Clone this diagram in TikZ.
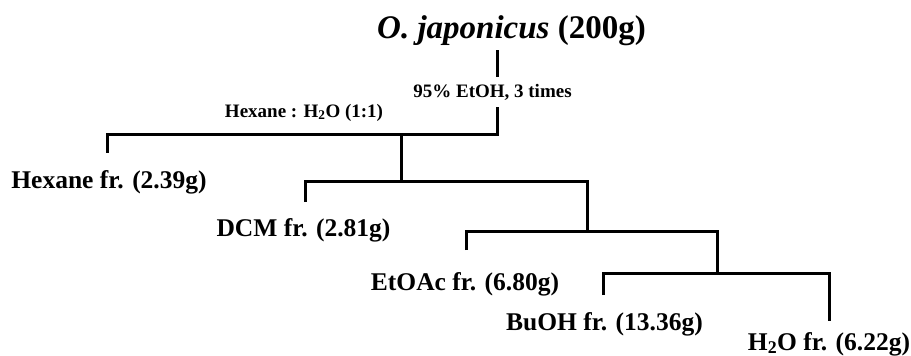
\documentclass[tikz,border=0pt]{standalone}
\usepackage{fontspec}
\setmainfont{Liberation Serif}
\begin{document}
\begin{tikzpicture}[x=1pt,y=-1pt,
  tree/.style={line width=3pt, line join=miter},
  frac/.style={inner sep=0pt, anchor=base, font=\bfseries\fontsize{25.5}{30}\selectfont},
  note/.style={inner sep=0pt, anchor=base, font=\bfseries\fontsize{19}{23}\selectfont}]
\useasboundingbox (0,0) rectangle (911,356);
% texts
\node[inner sep=0pt, anchor=base, font=\bfseries\fontsize{33}{38}\selectfont] (title) at (511.5,38) {\textit{O. japonicus} (200g)};
\node[note] (etoh) at (492.5,97) {95\% EtOH, 3 times};
\node[note] (hexw) at (304,117) {Hexane : H\textsubscript{2}O (1:1)};
\node[frac] (hex) at (109,188) {Hexane fr. (2.39g)};
\node[frac] (dcm) at (303.5,236) {DCM fr. (2.81g)};
\node[frac] (etoac) at (465,290) {EtOAc fr. (6.80g)};
\node[frac] (buoh) at (604.5,330) {BuOH fr. (13.36g)};
\node[frac] (water) at (829,350) {H\textsubscript{2}O fr. (6.22g)};
% junction coordinates
\coordinate (t0) at (497,50);
\coordinate (t1) at (497,77);
\coordinate (t2) at (497,107);
\coordinate (c1) at (497,134);
\coordinate (d1) at (107,153);
\coordinate (m1) at (401,134);
\coordinate (m2) at (401,181);
\coordinate (d2) at (305,202);
\coordinate (c2) at (587,181);
\coordinate (c3) at (587,231);
\coordinate (d3) at (466,250);
\coordinate (c4) at (717,231);
\coordinate (c5) at (717,273);
\coordinate (d4) at (603,295);
\coordinate (c6) at (829,273);
\coordinate (d5) at (829,321);
% connectors
\draw[tree] (t0) -- (t1);
\draw[tree] (t2) -- (c1) -| (d1);
\draw[tree] (m1) -- (m2);
\draw[tree] (d2) |- (c2) -- (c3);
\draw[tree] (d3) |- (c4) -- (c5);
\draw[tree] (d4) |- (c6) -- (d5);
\end{tikzpicture}
\end{document}
